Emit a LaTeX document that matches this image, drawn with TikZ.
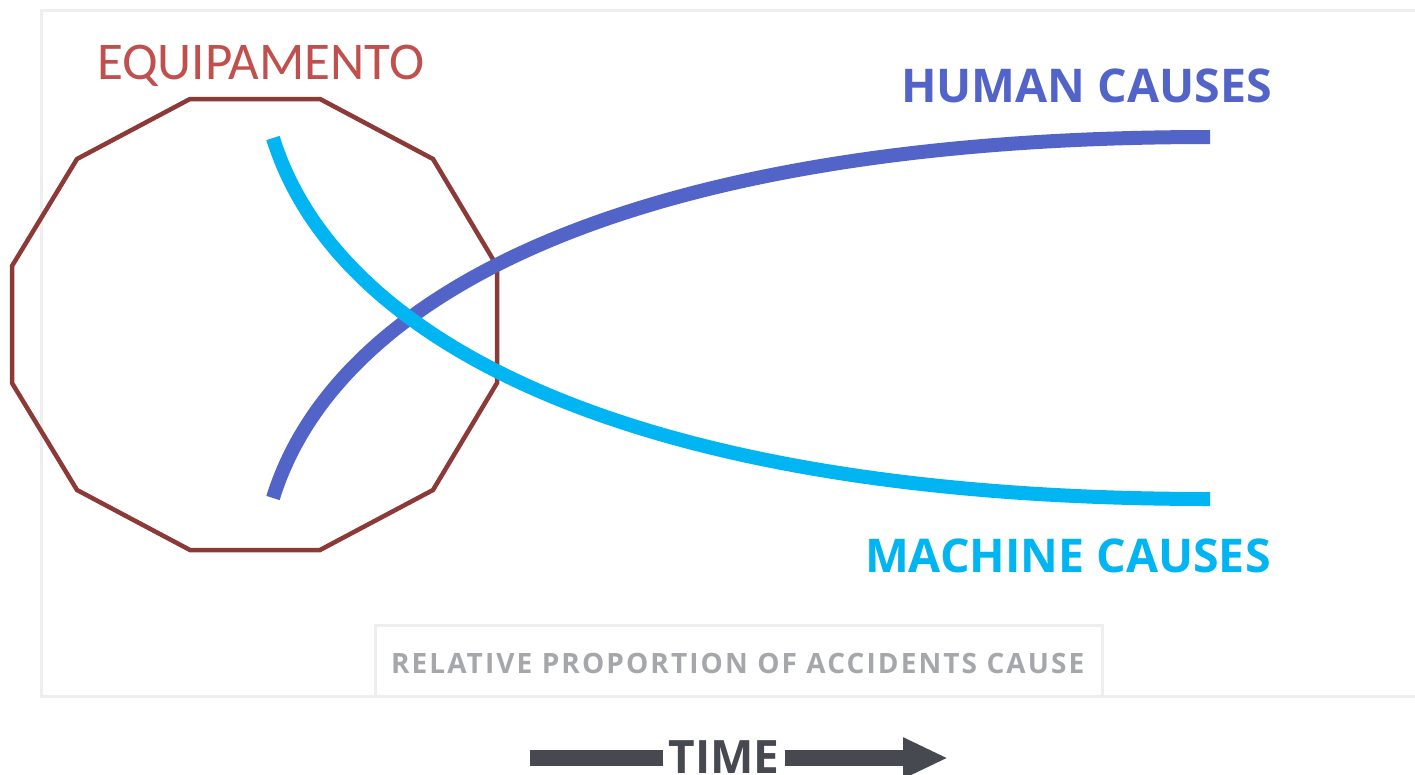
\documentclass[tikz,border=0pt]{standalone}
\usepackage{fontspec}
\setmainfont{Open Sans}
\newfontfamily\calfont{Carlito}
\newfontfamily\widefont[LetterSpace=7.5]{Open Sans}
\usetikzlibrary{arrows.meta}
\definecolor{humancol}{HTML}{5364C8}
\definecolor{machcol}{HTML}{00B5F1}
\definecolor{polycol}{HTML}{8C3A37}
\definecolor{equipcol}{HTML}{C0504D}
\definecolor{framecol}{HTML}{EEEEEE}
\definecolor{graytext}{HTML}{A5A7AA}
\definecolor{timecol}{HTML}{46494F}
\begin{document}
\begin{tikzpicture}[x=1pt,y=-1pt,
  lbl/.style={inner sep=0pt, outer sep=0pt, anchor=base west},
  curve/.style={line width=14pt, line join=round},
  frameline/.style={draw=framecol, line width=3pt}]
\useasboundingbox (0,0) rectangle (1415,774);
\clip (0,0) rectangle (1415,774);
\fill[white] (0,0) rectangle (1415,774);
% frames
\draw[frameline] (41.5,10.5) rectangle (1440,696);
\draw[frameline] (375.5,625) rectangle (1102,696);
% dodecagon
\draw[polycol, line width=4.5pt, line join=miter]
  (190,99) -- (320,99) -- (433,159) -- (497,266) -- (497,383) -- (433,490)
  -- (320,550) -- (190,550) -- (77,490) -- (12,383) -- (12,266) -- (77,159) -- cycle;
% curves
\coordinate (h0) at (273,498);
\coordinate (h1) at (1210,137);
\coordinate (m0) at (273,138);
\coordinate (m1) at (1210,499);
\draw[curve, humancol] (h0) .. controls (334,300) and (620,137) .. (h1);
\draw[curve, machcol] (m0) .. controls (334,336) and (620,499) .. (m1);
% labels
\node[lbl, text=equipcol, font=\calfont\fontsize{53}{60}\selectfont] (equip) at (97,79) {EQUIPAMENTO};
\node[lbl, text=humancol, font=\bfseries\fontsize{46.5}{54}\selectfont] (human) at (901,102) {HUMAN CAUSES};
\node[lbl, text=machcol, font=\bfseries\fontsize{46.5}{54}\selectfont] (machine) at (865,572) {MACHINE CAUSES};
\node[lbl, text=graytext, font=\widefont\bfseries\fontsize{28}{32}\selectfont] (relative) at (391,673) {RELATIVE PROPORTION OF ACCIDENTS CAUSE};
\node[inner sep=0pt, outer sep=0pt, anchor=base, text=timecol, font=\bfseries\fontsize{46}{52}\selectfont] (time) at (724,773) {TIME};
% time arrow
\coordinate (l0) at (530,758);
\coordinate (l1) at (663,758);
\coordinate (r0) at (785,758);
\coordinate (r1) at (948,758);
\draw[timecol, line width=16pt] (l0) -- (l1);
\draw[timecol, line width=16pt, -{Triangle[length=45pt,width=38pt]}] (r0) -- (r1);
\end{tikzpicture}
\end{document}
